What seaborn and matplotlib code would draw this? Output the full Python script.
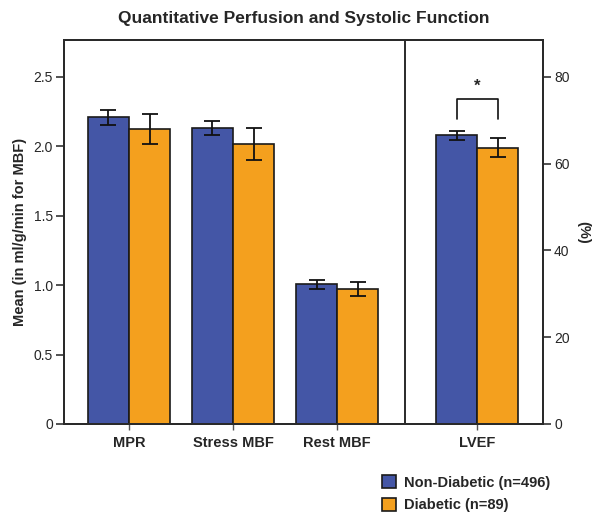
import numpy as np
import pandas as pd
import matplotlib
matplotlib.use('Agg')
import matplotlib.pyplot as plt
from matplotlib.patches import Patch
import seaborn as sns

# Data
groups = ['Non-Diabetic (n=496)', 'Diabetic (n=89)']
mbf_labels = ['MPR', 'Stress MBF', 'Rest MBF']
mbf_pos = [0.0, 1.0, 2.0]
mbf_nondiab = [2.21, 2.13, 1.005]
mbf_nondiab_err = [0.055, 0.05, 0.03]
mbf_diab = [2.125, 2.02, 0.97]
mbf_diab_err = [0.105, 0.115, 0.05]

lvef_label = 'LVEF'
lvef_pos = [3.346]
lvef_nondiab = [66.5]
lvef_nondiab_err = [1.0]
lvef_diab = [63.7]
lvef_diab_err = [2.1]

colors = ['#4456A6', '#F4A01E']
bar_w = 0.79

sns.set_style('ticks')
plt.rcParams['font.family'] = ['Liberation Sans', 'DejaVu Sans']

mbf = pd.DataFrame({
    'pos': mbf_pos * 2,
    'value': mbf_nondiab + mbf_diab,
    'err': mbf_nondiab_err + mbf_diab_err,
    'group': [groups[0]] * 3 + [groups[1]] * 3,
})
lvef = pd.DataFrame({
    'pos': lvef_pos * 2,
    'value': lvef_nondiab + lvef_diab,
    'err': lvef_nondiab_err + lvef_diab_err,
    'group': [groups[0], groups[1]],
})

fig = plt.figure(figsize=(5.95, 5.12), dpi=100)
ax = fig.add_axes([0.1076, 0.172, 0.805, 0.75])
ax2 = ax.twinx()

sns.barplot(data=mbf, x='pos', y='value', hue='group', hue_order=groups,
            palette=colors, saturation=1, native_scale=True, width=bar_w, errorbar=None,
            edgecolor='#1a1a1a', linewidth=1.2, legend=False, ax=ax)
sns.barplot(data=lvef, x='pos', y='value', hue='group', hue_order=groups,
            palette=colors, saturation=1, native_scale=True, width=bar_w, errorbar=None,
            edgecolor='#1a1a1a', linewidth=1.2, legend=False, ax=ax2)

# error bars at bar centres
off = bar_w / 4
for axis, df in [(ax, mbf), (ax2, lvef)]:
    for i, g in enumerate(groups):
        sub = df[df['group'] == g]
        axis.errorbar(sub['pos'] + (i * 2 - 1) * off, sub['value'], yerr=sub['err'],
                      fmt='none', ecolor='#111111', elinewidth=1.3, capsize=5.5,
                      capthick=1.3, zorder=5)

xlim = (-0.625, 3.98)
ax.set_xlim(*xlim)
ax2.set_xlim(*xlim)
ax.set_ylim(0, 2.767)
ax2.set_ylim(0, 88.5)

ax.set_yticks([0, 0.5, 1.0, 1.5, 2.0, 2.5])
ax.set_yticklabels(['0', '0.5', '1.0', '1.5', '2.0', '2.5'])
ax2.set_yticks([0, 20, 40, 60, 80])
ax.set_xticks(mbf_pos + lvef_pos)
ax.set_xticklabels(mbf_labels + [lvef_label], fontweight='bold', fontsize=10.5)
ax2.set_xticks(mbf_pos + lvef_pos)

for axis in (ax, ax2):
    axis.tick_params(axis='y', length=6, width=1.1, labelsize=10, color='#222222', pad=2)
    axis.tick_params(axis='x', length=4, width=1.0, color='#555555', pad=5)
    for sp in axis.spines.values():
        sp.set_visible(True)
        sp.set_linewidth(1.4)
        sp.set_color('#2a2a2a')

ax.set_xlabel('')
ax2.set_xlabel('')
ax.set_ylabel('Mean (in ml/g/min for MBF)', fontweight='bold', fontsize=10.5, labelpad=5)
ax2.set_ylabel('(%)', fontweight='bold', fontsize=10.5, rotation=270, labelpad=15)

# divider between MBF and LVEF panels
ax.axvline(2.654, color='#2a2a2a', linewidth=1.4)

# significance bracket
bx0 = lvef_pos[0] - off
bx1 = lvef_pos[0] + off
ax2.plot([bx0, bx0, bx1, bx1], [70.2, 74.8, 74.8, 70.2], color='#111111', linewidth=1.2)
ax2.text(lvef_pos[0], 76.0, '*', ha='center', va='bottom', fontsize=12, fontweight='bold')

ax.set_title('Quantitative Perfusion and Systolic Function', fontweight='bold',
             fontsize=12.5, pad=12)

handles = [Patch(facecolor=c, edgecolor='#1a1a1a', linewidth=1.2) for c in colors]
fig.legend(handles, groups, loc='upper left', bbox_to_anchor=(0.632, 0.083),
           frameon=False, prop={'weight': 'bold', 'size': 10.5}, handlelength=1.0,
           handleheight=1.0, handletextpad=0.5, labelspacing=0.55, borderaxespad=0)

fig.savefig('out.png', dpi=100)
